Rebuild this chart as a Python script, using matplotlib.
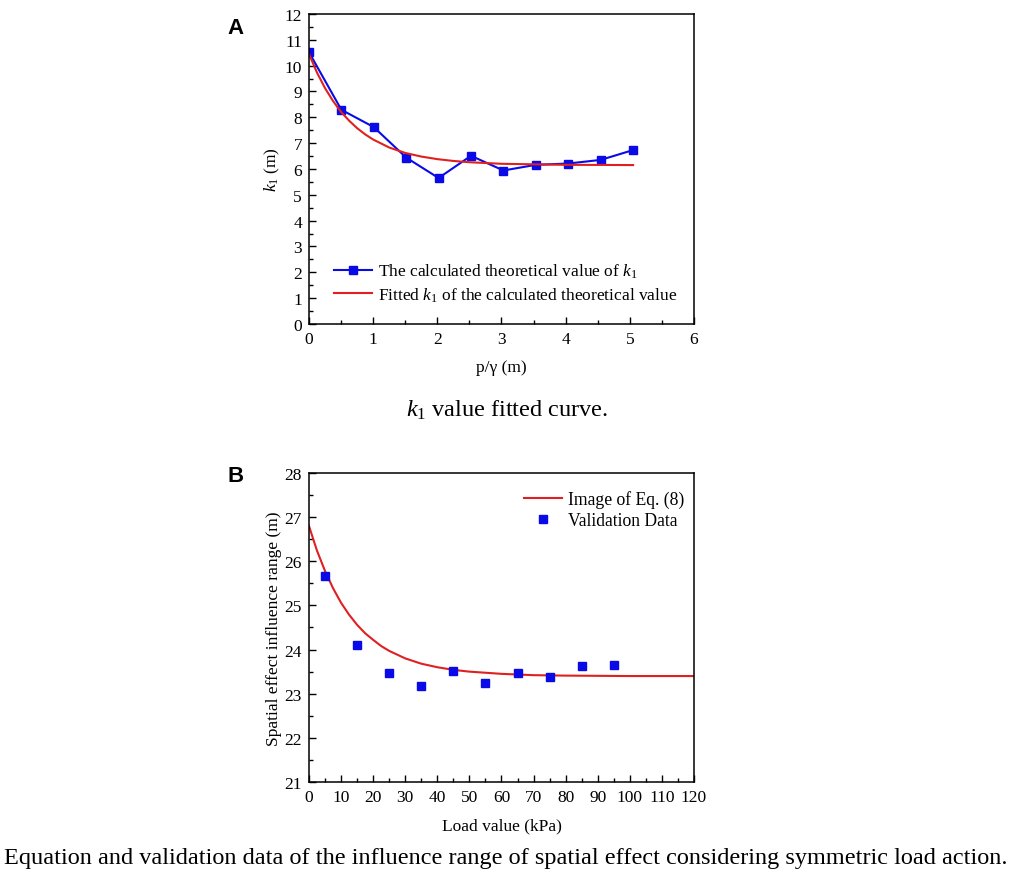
import numpy as np
import matplotlib
matplotlib.use("Agg")
import matplotlib.pyplot as plt
from matplotlib.ticker import MultipleLocator

plt.rcParams['font.family'] = ['Liberation Serif', 'DejaVu Serif']
plt.rcParams['mathtext.fontset'] = 'custom'
plt.rcParams['mathtext.rm'] = 'Liberation Serif'
plt.rcParams['mathtext.it'] = 'Liberation Serif:italic'

# panel A: calculated k1 values and fitted curve
p_gamma = [0.0, 0.505, 1.01, 1.515, 2.02, 2.525, 3.03, 3.535, 4.04, 4.545, 5.05]
k1_calc = [10.52, 8.29, 7.62, 6.44, 5.65, 6.51, 5.94, 6.16, 6.21, 6.35, 6.73]
fit_x = [0.0, 0.125, 0.25, 0.375, 0.5, 0.625, 0.75, 0.875, 1.0, 1.25, 1.5,
         1.75, 2.0, 2.25, 2.5, 2.75, 3.0, 3.5, 4.0, 4.5, 5.05]
fit_k1 = [10.45, 9.73, 9.13, 8.63, 8.21, 7.87, 7.58, 7.34, 7.14, 6.83, 6.62,
          6.48, 6.38, 6.31, 6.26, 6.23, 6.20, 6.18, 6.16, 6.156, 6.15]

# panel B: Eq. (8) curve and validation data
eq_load = [0, 2.5, 5, 7.5, 10, 12.5, 15, 17.5, 20, 22.5, 25, 30, 35, 40, 45,
           50, 60, 70, 80, 90, 100, 120]
eq_range = [26.80, 26.24, 25.78, 25.39, 25.06, 24.79, 24.56, 24.37, 24.22,
            24.08, 23.97, 23.80, 23.68, 23.60, 23.54, 23.50, 23.45, 23.42,
            23.41, 23.405, 23.40, 23.40]
val_load = [5, 15, 25, 35, 45, 55, 65, 75, 85, 95]
val_range = [25.67, 24.11, 23.46, 23.18, 23.52, 23.25, 23.46, 23.37, 23.63, 23.65]

blue = '#0a0ae6'
red = '#e02020'

fig = plt.figure(figsize=(10.17, 8.79), dpi=100)
axA = fig.add_axes([0.3038, 0.6303, 0.3786, 0.3527])
axB = fig.add_axes([0.3038, 0.1092, 0.3786, 0.3516])

for ax in (axA, axB):
    ax.tick_params(which='both', direction='in', top=False, right=False,
                   labelsize=12.5, pad=5)
    ax.tick_params(which='major', length=5, width=1)
    ax.tick_params(which='minor', length=3, width=1)
    for s in ax.spines.values():
        s.set_linewidth(1.1)

axA.plot(p_gamma, k1_calc, color=blue, lw=1.5, marker='s', ms=5.5,
         label=r'The calculated theoretical value of $\mathit{k_1}$')
axA.plot(fit_x, fit_k1, color=red, lw=1.5,
         label=r'Fitted $\mathit{k_1}$ of the calculated theoretical value')
axA.set_xlim(0, 6)
axA.set_ylim(0, 12)
axA.xaxis.set_major_locator(MultipleLocator(1))
axA.xaxis.set_minor_locator(MultipleLocator(0.5))
axA.yaxis.set_major_locator(MultipleLocator(1))
axA.yaxis.set_minor_locator(MultipleLocator(0.5))
axA.set_xlabel('p/γ (m)', fontsize=12.5, labelpad=9)
axA.set_ylabel(r'$\mathit{k_1}$ (m)', fontsize=12.5, labelpad=2)
axA.legend(loc='lower left', bbox_to_anchor=(0.025, 0.015), frameon=False,
           fontsize=12.5, handlelength=2.2, handletextpad=0.3, labelspacing=0.3)

axB.plot(eq_load, eq_range, color=red, lw=1.5, label='Image of Eq. (8)')
axB.plot(val_load, val_range, ls='none', marker='s', ms=5.5, color=blue,
         label='Validation Data')
axB.set_xlim(0, 120)
axB.set_ylim(21, 28)
axB.xaxis.set_major_locator(MultipleLocator(10))
axB.xaxis.set_minor_locator(MultipleLocator(5))
axB.yaxis.set_major_locator(MultipleLocator(1))
axB.yaxis.set_minor_locator(MultipleLocator(0.5))
axB.set_xlabel('Load value (kPa)', fontsize=12.5, labelpad=9)
axB.set_ylabel('Spatial effect influence range (m)', fontsize=12.6, labelpad=2)
axB.legend(loc='upper right', bbox_to_anchor=(1.015, 0.995), frameon=False,
           fontsize=12.7, handlelength=2.2, handletextpad=0.3, labelspacing=0.2)

fig.text(236 / 1017, 1 - 28 / 879, 'A', fontsize=16, fontweight='bold',
         family='Liberation Sans', ha='center', va='center')
fig.text(236 / 1017, 1 - 477 / 879, 'B', fontsize=16, fontweight='bold',
         family='Liberation Sans', ha='center', va='center')
fig.text(507 / 1017, 1 - 410 / 879,
         r'$\mathit{k_1}$ value fitted curve.', fontsize=17.5,
         ha='center', va='center')
fig.text(506 / 1017, 1 - 859 / 879,
         'Equation and validation data of the influence range of spatial '
         'effect considering symmetric load action.', fontsize=17.5,
         ha='center', va='center')

fig.savefig('out.png', dpi=100)
